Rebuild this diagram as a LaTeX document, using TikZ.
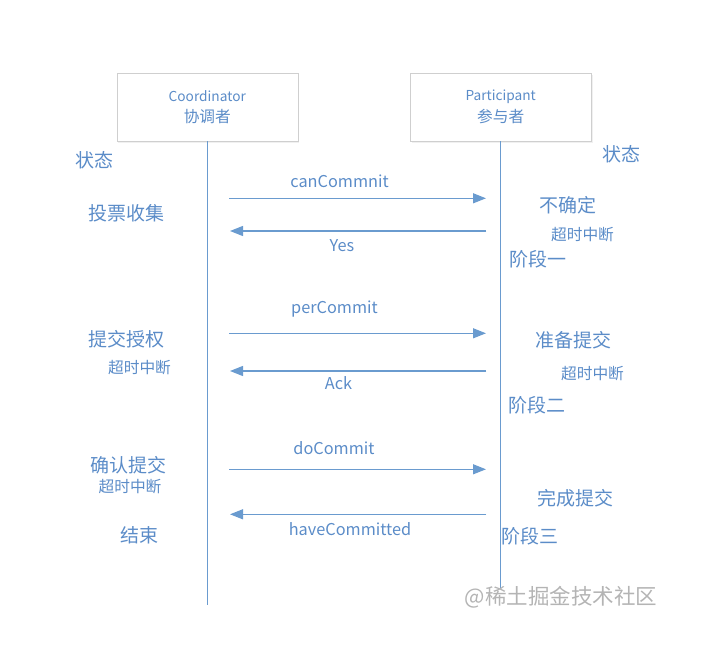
\documentclass[tikz,border=0pt]{standalone}
\usepackage{fontspec}
\setmainfont{Noto Sans CJK SC}
\usetikzlibrary{arrows.meta, shadows}
\definecolor{tcblue}{HTML}{5B8CC8}
\definecolor{tcline}{HTML}{6A9BCF}
\definecolor{tcbox}{HTML}{CFCFCF}
\definecolor{tcmark}{HTML}{B4B4B4}
\tikzset{
	rolebox/.style={draw=tcbox, fill=white, minimum width=181pt, minimum height=68pt,
		align=center, font=\fontsize{13.7}{21.5}\selectfont, text=tcblue, inner sep=0pt,
		drop shadow={opacity=0.12, shadow xshift=1.5pt, shadow yshift=-1.5pt}},
	lifeline/.style={draw=tcline, line width=1.3pt},
	msg/.style={-{Triangle[length=13pt, width=10pt]}, draw=tcline, fill=tcline, line width=1.3pt},
	msglabel/.style={text=tcblue, font=\fontsize{16.3}{18}\selectfont, inner sep=0pt},
	statelabel/.style={text=tcblue, font=\fontsize{19}{21}\selectfont, inner sep=0pt},
	notelabel/.style={text=tcblue, font=\fontsize{15.7}{17}\selectfont, inner sep=0pt}
}

\begin{document}
\begin{tikzpicture}[x=1pt, y=-1pt]
	\useasboundingbox (0,0) rectangle (701,648);
	% participants
	\node[rolebox] (coord) at (207.3,107) {Coordinator\\\fontsize{15.7}{21.5}\selectfont 协调者};
	\node[rolebox] (part) at (500.7,107) {Participant\\\fontsize{15.7}{21.5}\selectfont 参与者};
	\coordinate (coordend) at (207.3,605);
	\coordinate (partend) at (500.7,589);
	\draw[lifeline] (coord.south) -- (coordend);
	\draw[lifeline] (part.south) -- (partend);
	% message ends
	\coordinate (c1) at (229,198.3);  \coordinate (p1) at (486,198.3);
	\coordinate (c2) at (230,231);    \coordinate (p2) at (486,231);
	\coordinate (c3) at (229,333.3);  \coordinate (p3) at (486,333.3);
	\coordinate (c4) at (230,371);    \coordinate (p4) at (486,371);
	\coordinate (c5) at (229,469.3);  \coordinate (p5) at (486,469.3);
	\coordinate (c6) at (230,514.3);  \coordinate (p6) at (486,514.3);
	\draw[msg] (c1) -- (p1);
	\draw[msg] (p2) -- (c2);
	\draw[msg] (c3) -- (p3);
	\draw[msg] (p4) -- (c4);
	\draw[msg] (c5) -- (p5);
	\draw[msg] (p6) -- (c6);
	% message labels
	\node[msglabel] (m1) at (339.5,181.5) {canCommnit};
	\node[msglabel] (m2) at (342,246) {Yes};
	\node[msglabel] (m3) at (334.5,309.5) {perCommit};
	\node[msglabel] (m4) at (338.5,383.5) {Ack};
	\node[msglabel] (m5) at (334,448.5) {doCommit};
	\node[msglabel] (m6) at (350,529.5) {haveCommitted};
	% coordinator states
	\node[statelabel] (cstate) at (94,160) {状态};
	\node[statelabel] (vote) at (126.5,213.5) {投票收集};
	\node[statelabel] (grant) at (126.5,339) {提交授权};
	\node[notelabel] (cto1) at (139.5,367.5) {超时中断};
	\node[statelabel] (confirm) at (128.5,465.5) {确认提交};
	\node[notelabel] (cto2) at (130,486.5) {超时中断};
	\node[statelabel] (finish) at (139,535) {结束};
	% participant states
	\node[statelabel] (pstate) at (621.5,154.5) {状态};
	\node[statelabel] (unsure) at (568,205) {不确定};
	\node[notelabel] (pto1) at (582.5,235) {超时中断};
	\node[statelabel] (phase1) at (537.5,259.5) {阶段一};
	\node[statelabel] (ready) at (573.5,340) {准备提交};
	\node[notelabel] (pto2) at (592.5,373.5) {超时中断};
	\node[statelabel] (phase2) at (537,405.5) {阶段二};
	\node[statelabel] (done) at (575,498) {完成提交};
	\node[statelabel] (phase3) at (530,536) {阶段三};
	% watermark
	\node[text=tcmark, font=\fontsize{21.5}{23}\selectfont, inner sep=0pt] (mark) at (561,597) {@稀土掘金技术社区};
\end{tikzpicture}
\end{document}
